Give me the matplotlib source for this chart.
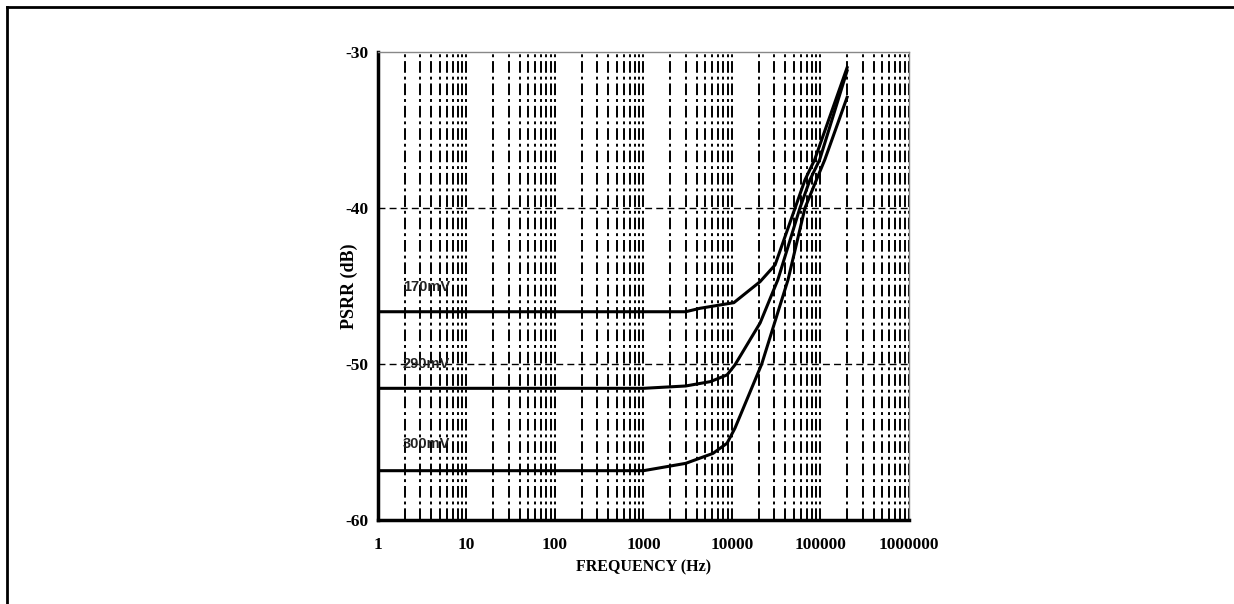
import matplotlib
matplotlib.use("Agg")
import matplotlib.pyplot as plt
from matplotlib.lines import Line2D
from matplotlib.ticker import FixedLocator, NullFormatter

# values (frequency in Hz, PSRR in dB)
freq_170 = [1, 100, 1000, 3000, 4350, 10500, 20800, 30700, 51700, 66800, 86000, 200000]
psrr_170 = [-46.65, -46.65, -46.65, -46.65, -46.43, -46.07, -44.72, -43.65, -40.0, -38.2, -36.9, -31.0]

freq_290 = [1, 100, 1000, 3000, 5700, 8800, 10800, 20800, 33000, 58600, 76000, 98000, 200000]
psrr_290 = [-51.56, -51.56, -51.56, -51.41, -51.13, -50.7, -50.06, -47.37, -44.6, -40.0, -38.2, -36.9, -31.2]

freq_300 = [1, 100, 1000, 3000, 6100, 8800, 10800, 21700, 43000, 66800, 90000, 112000, 200000]
psrr_300 = [-56.84, -56.84, -56.84, -56.37, -55.73, -55.08, -54.12, -50.0, -44.6, -40.0, -38.2, -36.9, -32.9]

curve_labels = ["170mV", "290mV", "300mV"]
label_pos = [(1.9, -45.05), (1.9, -50.0), (1.9, -55.1)]

x_ticks = [1, 10, 100, 1000, 10000, 100000, 1000000]
x_ticklabels = ["1", "10", "100", "1000", "10000", "100000", "1000000"]
y_ticks = [-60, -50, -40, -30]

serif = ["Liberation Serif", "DejaVu Serif"]
plt.rcParams["font.family"] = serif

fig = plt.figure(figsize=(12.34, 6.04), dpi=100)
ax = fig.add_axes([0.3063, 0.1391, 0.4303, 0.7748])

# vertical grid: every decade and 2..9 inside it
grid_x = [m * 10 ** d for d in range(6) for m in range(1, 10)] + [1000000]
for gx in grid_x[1:]:
    ax.axvline(gx, color="black", lw=1.4, linestyle=(0, (6, 2, 1.5, 2)), zorder=1)
for gy in [-50, -40]:
    ax.axhline(gy, color="black", lw=1.0, linestyle=(0, (5, 3)), zorder=1)

for f, p in [(freq_170, psrr_170), (freq_290, psrr_290), (freq_300, psrr_300)]:
    ax.plot(f, p, color="black", lw=2.2, zorder=3)

for lab, (lx, ly) in zip(curve_labels, label_pos):
    ax.text(lx, ly, lab, fontsize=10.5, fontweight="bold", family=["Liberation Sans", "DejaVu Sans"],
            va="center", ha="left", color="#222222", zorder=4)

ax.set_xscale("log")
ax.set_xlim(1, 1000000)
ax.set_ylim(-60, -30)
ax.xaxis.set_major_locator(FixedLocator(x_ticks))
ax.set_xticklabels(x_ticklabels)
ax.xaxis.set_minor_formatter(NullFormatter())
ax.set_yticks(y_ticks)
ax.set_yticklabels([str(v) for v in y_ticks])
ax.tick_params(axis="both", which="both", length=0, labelsize=12.5)
ax.tick_params(axis="x", pad=12)
ax.tick_params(axis="y", pad=7)
for t in ax.get_xticklabels() + ax.get_yticklabels():
    t.set_fontweight("bold")

ax.spines["left"].set_linewidth(2.5)
ax.spines["bottom"].set_linewidth(2.5)
ax.spines["top"].set_linewidth(1.0)
ax.spines["right"].set_linewidth(1.0)
ax.spines["top"].set_color("#888888")
ax.spines["right"].set_color("#888888")

ax.set_xlabel("FREQUENCY (Hz)", fontsize=11.5, fontweight="bold", labelpad=5)
ax.set_ylabel("PSRR (dB)", fontsize=13, fontweight="bold")
ax.yaxis.set_label_coords(-0.038, 0.5)

# outer frame (top and left edges only)
fig.add_artist(Line2D([7 / 1234, 1], [1 - 7 / 604, 1 - 7 / 604], color="black", lw=2, transform=fig.transFigure))
fig.add_artist(Line2D([7 / 1234, 7 / 1234], [0, 1 - 7 / 604], color="black", lw=2, transform=fig.transFigure))

fig.savefig("out.png", dpi=100)
